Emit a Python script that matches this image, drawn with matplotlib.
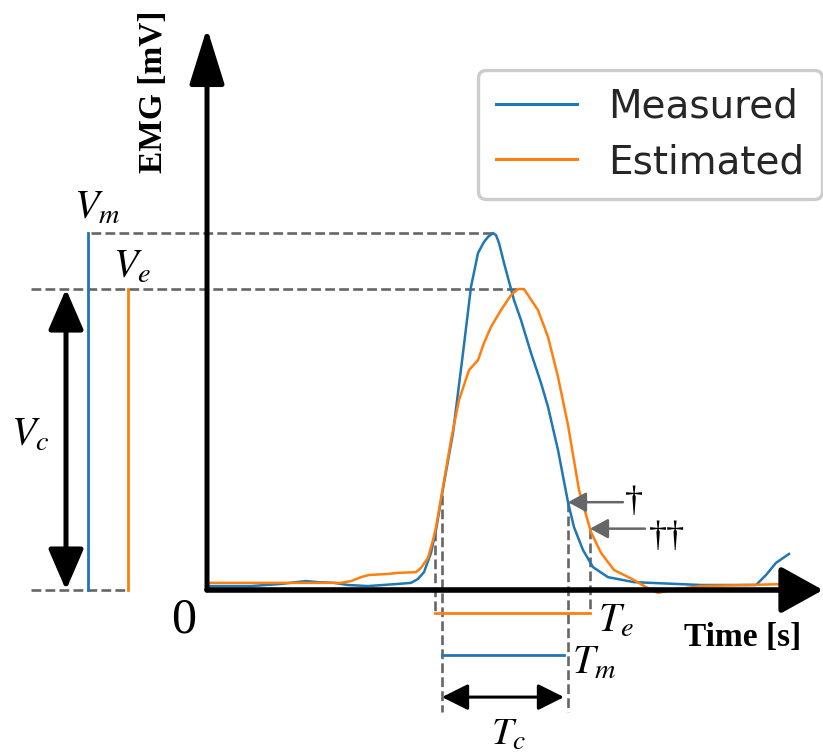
import matplotlib

matplotlib.use("Agg")
import matplotlib.pyplot as plt
import numpy as np
from matplotlib.patches import FancyArrowPatch

plt.rcParams["mathtext.fontset"] = "stix"

# measured EMG envelope (time in s, amplitude in mV)
time_measured = [0.00, 0.44, 0.74, 0.99, 1.11, 1.27, 1.41, 1.61, 1.91, 2.04, 2.11, 2.17, 2.24, 2.29,
                 2.37, 2.46, 2.56, 2.64, 2.71, 2.77, 2.81, 2.86, 2.89, 2.92, 2.97, 3.07, 3.14, 3.24,
                 3.34, 3.41, 3.51, 3.61, 3.67, 3.76, 3.86, 4.01, 4.27, 4.94, 5.49, 5.59, 5.69, 5.82]
emg_measured = [0.011, 0.011, 0.017, 0.025, 0.022, 0.020, 0.014, 0.011, 0.017, 0.020, 0.031, 0.050,
                0.104, 0.168, 0.300, 0.440, 0.664, 0.849, 0.944, 0.975, 0.989, 1.000, 0.994, 0.972,
                0.916, 0.812, 0.756, 0.664, 0.580, 0.513, 0.392, 0.246, 0.176, 0.112, 0.064, 0.036,
                0.022, 0.014, 0.014, 0.042, 0.076, 0.101]

# estimated EMG envelope
time_estimated = [0.00, 1.34, 1.44, 1.54, 1.62, 1.81, 1.91, 2.09, 2.14, 2.21, 2.26, 2.29, 2.36, 2.44,
                  2.52, 2.62, 2.71, 2.77, 2.84, 2.94, 3.04, 3.11, 3.17, 3.31, 3.41, 3.51, 3.61, 3.72,
                  3.84, 3.94, 4.07, 4.27, 4.39, 4.51, 4.64, 4.94, 5.84]
emg_estimated = [0.020, 0.020, 0.025, 0.036, 0.042, 0.045, 0.048, 0.050, 0.062, 0.090, 0.140, 0.176,
                 0.289, 0.420, 0.532, 0.616, 0.644, 0.692, 0.737, 0.784, 0.826, 0.843, 0.843, 0.784,
                 0.709, 0.597, 0.462, 0.280, 0.162, 0.104, 0.056, 0.028, 0.008, -0.008, 0.000, 0.011,
                 0.017]

# activation onset / offset times
onset_measured, offset_measured = 2.35, 3.61
onset_estimated, offset_estimated = 2.28, 3.83

BLUE = "#1f77b4"
ORANGE = "#ff7f0e"
GUIDE = "0.4"
SERIF = "Liberation Serif"


def _arrow(ax, start, end, style, lw, color, head_length, head_width, zorder=4):
    ax.add_patch(
        FancyArrowPatch(
            start, end,
            arrowstyle=f"{style},head_length={head_length},head_width={head_width}",
            mutation_scale=1, shrinkA=0, shrinkB=0, lw=lw, color=color, zorder=zorder,
        )
    )


fig = plt.figure(figsize=(8.23, 7.53), dpi=100)
ax = fig.add_axes([0, 0, 1, 1])
ax.set_xlim(-2.07, 6.16)
ax.set_ylim(-0.4566, 1.6527)
ax.axis("off")

line_m, = ax.plot(time_measured, emg_measured, color=BLUE, lw=1.8, label="Measured", zorder=3)
line_e, = ax.plot(time_estimated, emg_estimated, color=ORANGE, lw=1.8, label="Estimated", zorder=3)

v_m = max(emg_measured)
v_e = max(emg_estimated)
t_vm = time_measured[int(np.argmax(emg_measured))]
t_ve = time_estimated[int(np.argmax(emg_estimated))]

# peak guides and amplitude bars on the left
dash = dict(ls="--", color=GUIDE, lw=1.9, zorder=2)
ax.plot([-1.16, t_vm], [v_m, v_m], **dash)
ax.plot([-1.76, t_ve], [v_e, v_e], **dash)
ax.plot([-1.76, -0.79], [0, 0], **dash)
ax.plot([-1.19, -1.19], [0, v_m], color=BLUE, lw=2)
ax.plot([-0.79, -0.79], [0, v_e], color=ORANGE, lw=2)
_arrow(ax, (-1.41, 0), (-1.41, v_e), "<|-|>", 3.6, "black", 25, 10.8)

# onset / offset guides
lvl_on_m = np.interp(onset_measured, time_measured, emg_measured)
lvl_off_m = np.interp(offset_measured, time_measured, emg_measured)
lvl_on_e = np.interp(onset_estimated, time_estimated, emg_estimated)
lvl_off_e = np.interp(offset_estimated, time_estimated, emg_estimated)

te_y, tm_y, tc_y = -0.064, -0.182, -0.300
for t, lvl in [(onset_measured, lvl_on_m), (offset_measured, lvl_off_m)]:
    ax.plot([t, t], [lvl, -0.342], **dash)
for t, lvl in [(onset_estimated, lvl_on_e), (offset_estimated, lvl_off_e)]:
    ax.plot([t, t], [lvl, te_y], **dash)

ax.plot([onset_estimated, offset_estimated], [te_y, te_y], color=ORANGE, lw=2)
ax.plot([onset_measured, offset_measured - 0.04], [tm_y, tm_y], color=BLUE, lw=2)
_arrow(ax, (onset_measured, tc_y), (offset_measured - 0.04, tc_y), "<|-|>", 2.2, "black", 16, 8)

# dagger pointers
_arrow(ax, (4.16, lvl_off_m), (offset_measured, lvl_off_m), "-|>", 1.8, "0.4", 11, 6)
_arrow(ax, (4.38, lvl_off_e), (offset_estimated, lvl_off_e), "-|>", 1.8, "0.4", 11, 6)
ax.text(4.27, 0.244, "\u2020", family=SERIF, fontsize=26, ha="center", va="center")
ax.text(4.60, 0.148, "\u2020\u2020", family=SERIF, fontsize=26, ha="center", va="center")

# axes arrows
_arrow(ax, (0, 0), (6.16, 0), "-|>", 4.0, "black", 26, 14.4, zorder=5)
_arrow(ax, (0, 0), (0, 1.574), "-|>", 3.6, "black", 34.6, 10.8, zorder=5)

# labels
ax.text(-1.10, 1.070, r"$V_m$", fontsize=29, ha="center", va="center")
ax.text(-0.75, 0.905, r"$V_e$", fontsize=29, ha="center", va="center")
ax.text(-1.77, 0.434, r"$V_c$", fontsize=29, ha="center", va="center")
ax.text(4.09, -0.087, r"$T_e$", fontsize=29, ha="center", va="center")
ax.text(3.87, -0.204, r"$T_m$", fontsize=29, ha="center", va="center")
ax.text(3.02, -0.402, r"$T_c$", fontsize=28, ha="center", va="center")
ax.text(-0.23, -0.084, "0", family=SERIF, fontsize=36, ha="center", va="center")
ax.text(5.36, -0.132, "Time [s]", family=SERIF, fontweight="bold", fontsize=24,
        ha="center", va="center")
ax.text(-0.53, 1.395, "EMG [mV]", family=SERIF, fontweight="bold", fontsize=24,
        rotation=90, ha="center", va="center")

leg = ax.legend(
    handles=[line_m, line_e], loc="upper right",
    bbox_to_anchor=(822 / 823, 1 - 70 / 753), bbox_transform=fig.transFigure,
    fontsize=28, handlelength=2.1, handletextpad=0.8, borderpad=0.45, labelspacing=0.45,
    borderaxespad=0, fancybox=True, framealpha=1, edgecolor="0.8",
)
leg.get_frame().set_linewidth(2.4)
for txt in leg.get_texts():
    txt.set_color("0.15")
for h in leg.legend_handles:
    h.set_linewidth(2.2)

fig.savefig("out.png", dpi=100)
